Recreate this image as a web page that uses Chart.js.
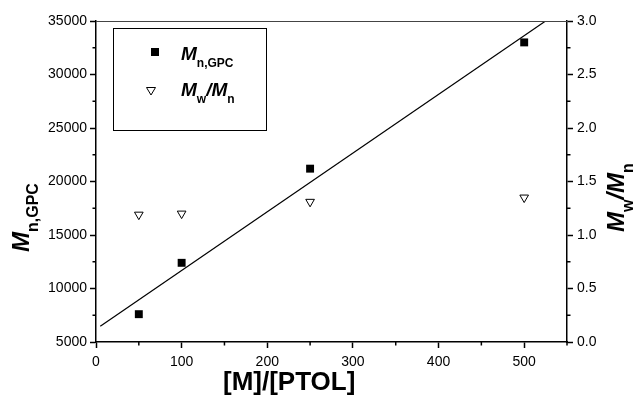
<!DOCTYPE html>
<html>
<head>
<meta charset="utf-8">
<script src="https://cdn.jsdelivr.net/npm/chart.js@4.4.0/dist/chart.umd.min.js"></script>
<style>
  html, body { margin: 0; padding: 0; background: #fff; }
  #wrap { width: 635px; height: 395px; position: relative; }
</style>
</head>
<body>
<div id="wrap"><canvas id="c"></canvas></div>
<script>
// ---- data ----
const ratio = [50, 100, 250, 500];            // [M]/[PTOL]
const mnGPC = [7600, 12400, 21200, 33000];     // Mn,GPC
const pdi   = [1.19, 1.20, 1.31, 1.35];        // Mw/Mn
const fitRatio = [5, 525];                     // linear fit line end points (x)
const fitMn    = [6470, 35000];                // linear fit line end points (y)
const xTitle = '[M]/[PTOL]';

const FONT = '"Liberation Sans", Arial, Helvetica, sans-serif';

function drawRotatedRich(ctx, x, y, parts) {
  // parts: [{text, font, dy}] drawn along baseline rotated -90deg
  ctx.save();
  ctx.translate(x, y);
  ctx.rotate(-Math.PI / 2);
  ctx.textAlign = 'left';
  ctx.textBaseline = 'alphabetic';
  let cx = 0;
  for (const p of parts) {
    ctx.font = p.font;
    ctx.fillText(p.text, cx, p.dy || 0);
    cx += ctx.measureText(p.text).width;
  }
  ctx.restore();
}
function drawRich(ctx, x, y, parts) {
  ctx.save();
  ctx.textAlign = 'left';
  ctx.textBaseline = 'alphabetic';
  let cx = x;
  for (const p of parts) {
    ctx.font = p.font;
    ctx.fillText(p.text, cx, y + (p.dy || 0));
    cx += ctx.measureText(p.text).width;
  }
  ctx.restore();
}

const decor = {
  id: 'decor',
  beforeDraw(chart) {
    const ctx = chart.ctx;
    ctx.save();
    ctx.fillStyle = '#fff';
    ctx.fillRect(0, 0, chart.width, chart.height);
    ctx.restore();
  },
  afterDraw(chart) {
    const ctx = chart.ctx;
    const a = chart.chartArea;
    ctx.save();
    ctx.fillStyle = '#000';
    ctx.strokeStyle = '#000';

    // top frame line
    ctx.strokeStyle = '#444';
    ctx.lineWidth = 1;
    ctx.beginPath();
    ctx.moveTo(a.left, a.top + 0.5);
    ctx.lineTo(a.right, a.top + 0.5);
    ctx.stroke();

    // minor ticks
    ctx.strokeStyle = '#000';
    ctx.lineWidth = 1.5;
    const minor = (scale, step, dir) => {
      for (let v = scale.min + step / 2; v <= scale.max + 1e-9; v += step) {
        const p = scale.getPixelForValue(v);
        ctx.beginPath();
        if (dir === 'bottom') { ctx.moveTo(p, a.bottom); ctx.lineTo(p, a.bottom + 3.5); }
        if (dir === 'left')   { ctx.moveTo(a.left, p); ctx.lineTo(a.left - 3.5, p); }
        if (dir === 'right')  { ctx.moveTo(a.right, p); ctx.lineTo(a.right + 3.5, p); }
        ctx.stroke();
      }
    };
    minor(chart.scales.x, 100, 'bottom');
    minor(chart.scales.y, 5000, 'left');
    minor(chart.scales.y2, 0.5, 'right');

    // legend box
    ctx.lineWidth = 1;
    ctx.strokeStyle = '#000';
    ctx.strokeRect(113.5, 28.5, 153, 102);
    // square marker
    ctx.fillRect(151, 48, 8, 8);
    // open down triangle marker
    ctx.beginPath();
    ctx.moveTo(146.5, 87.5);
    ctx.lineTo(155.5, 87.5);
    ctx.lineTo(151, 95);
    ctx.closePath();
    ctx.fillStyle = '#fff';
    ctx.fill();
    ctx.stroke();
    ctx.fillStyle = '#000';

    drawRich(ctx, 181, 60, [
      { text: 'M', font: 'italic bold 19px ' + FONT },
      { text: 'n,GPC', font: 'bold 12px ' + FONT, dy: 7 }
    ]);
    drawRich(ctx, 181, 96, [
      { text: 'M', font: 'italic bold 19px ' + FONT },
      { text: 'w', font: 'bold 12px ' + FONT, dy: 7 },
      { text: '/', font: 'italic bold 19px ' + FONT },
      { text: 'M', font: 'italic bold 19px ' + FONT },
      { text: 'n', font: 'bold 12px ' + FONT, dy: 7 }
    ]);

    // left axis title
    drawRotatedRich(ctx, 29, 252, [
      { text: 'M', font: 'italic bold 24px ' + FONT },
      { text: 'n,GPC', font: 'bold 16px ' + FONT, dy: 9 }
    ]);
    // right axis title
    drawRotatedRich(ctx, 624, 232, [
      { text: 'M', font: 'italic bold 24px ' + FONT },
      { text: 'w', font: 'bold 16px ' + FONT, dy: 9 },
      { text: '/', font: 'italic bold 24px ' + FONT },
      { text: 'M', font: 'italic bold 24px ' + FONT },
      { text: 'n', font: 'bold 16px ' + FONT, dy: 9 }
    ]);
    // x axis title
    ctx.font = 'bold 26px ' + FONT;
    ctx.textAlign = 'left';
    ctx.textBaseline = 'alphabetic';
    ctx.fillText(xTitle, 223, 390);
    ctx.restore();
  }
};

const tickFont = { family: FONT, size: 14 };

new Chart(document.getElementById('c'), {
  type: 'scatter',
  data: {
    datasets: [
      {
        label: 'Mn,GPC',
        data: ratio.map((x, i) => ({ x, y: mnGPC[i] })),
        yAxisID: 'y',
        pointStyle: 'rect',
        pointRadius: 5.6,
        pointHoverRadius: 5.6,
        backgroundColor: '#000',
        borderColor: '#000',
        borderWidth: 0
      },
      {
        label: 'Mw/Mn',
        data: ratio.map((x, i) => ({ x, y: pdi[i] })),
        yAxisID: 'y2',
        pointStyle: 'triangle',
        rotation: 180,
        pointRadius: 5,
        pointHoverRadius: 5,
        backgroundColor: '#fff',
        borderColor: '#000',
        borderWidth: 1
      },
      {
        type: 'line',
        label: 'fit',
        data: fitRatio.map((x, i) => ({ x, y: fitMn[i] })),
        yAxisID: 'y',
        borderColor: '#000',
        borderWidth: 1.2,
        pointRadius: 0,
        fill: false,
        tension: 0
      }
    ]
  },
  options: {
    responsive: true,
    maintainAspectRatio: false,
    animation: false,
    devicePixelRatio: 1,
    layout: { padding: { top: 21, left: 0, right: 0, bottom: 0 } },
    plugins: { legend: { display: false }, tooltip: { enabled: false } },
    scales: {
      x: {
        type: 'linear', position: 'bottom', min: 0, max: 550,
        ticks: { stepSize: 100, includeBounds: false, font: tickFont, color: '#000', padding: 6, maxRotation: 0,
                 callback: v => String(v) },
        grid: { drawOnChartArea: false, drawTicks: true, tickLength: 6, tickColor: '#000', tickWidth: 1.5, color: '#000' },
        border: { display: true, color: '#000', width: 1.5 },
        afterFit(s) { s.height = 53; }
      },
      y: {
        type: 'linear', position: 'left', min: 5000, max: 35000,
        ticks: { stepSize: 5000, font: tickFont, color: '#000', padding: 3, callback: v => String(v) },
        grid: { drawOnChartArea: false, drawTicks: true, tickLength: 6, tickColor: '#000', tickWidth: 1.5, color: '#000' },
        border: { display: true, color: '#000', width: 1.5 },
        afterFit(s) { s.width = 96; }
      },
      y2: {
        type: 'linear', position: 'right', min: 0, max: 3,
        ticks: { stepSize: 0.5, font: tickFont, color: '#000', padding: 4, callback: v => Number(v).toFixed(1) },
        grid: { drawOnChartArea: false, drawTicks: true, tickLength: 6, tickColor: '#000', tickWidth: 1.5, color: '#000' },
        border: { display: true, color: '#000', width: 1.5 },
        afterFit(s) { s.width = 68; }
      }
    }
  },
  plugins: [decor]
});
</script>
</body>
</html>
